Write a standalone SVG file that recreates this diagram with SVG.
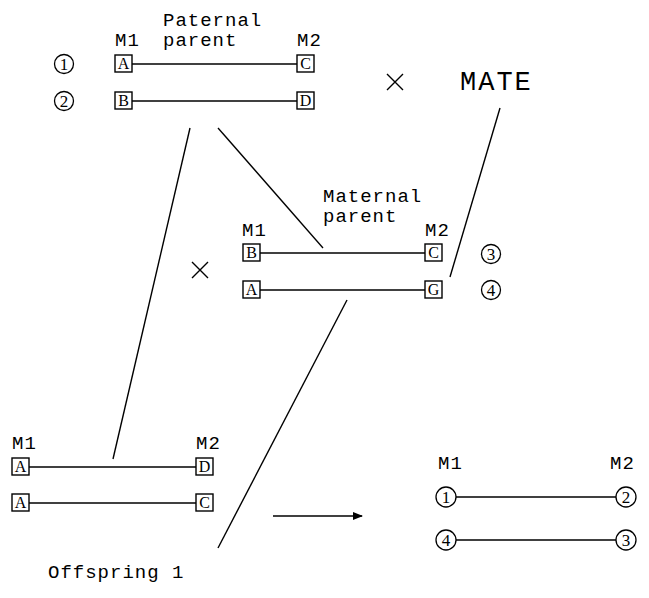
<svg xmlns="http://www.w3.org/2000/svg" width="649" height="598" viewBox="0 0 649 598">
<style>
.lbl{font-family:"Liberation Mono","Courier New",monospace;font-size:19px;letter-spacing:1px;fill:#000}
.big{font-family:"Liberation Mono","Courier New",monospace;font-size:27px;letter-spacing:2px;fill:#000}
.bx{fill:#fff;stroke:#000;stroke-width:1.4}
.bt{font-family:"Liberation Serif","Times New Roman",serif;font-size:16px;fill:#000;text-anchor:middle}
.ci{fill:#fff;stroke:#000;stroke-width:1.3}
.ct{font-family:"Liberation Serif","Times New Roman",serif;font-size:17px;fill:#000;text-anchor:middle}
.ln{stroke:#000;stroke-width:1.4;fill:none}
</style>
<defs>
<marker id="ah" markerWidth="10" markerHeight="8" refX="9" refY="4" orient="auto" markerUnits="userSpaceOnUse">
<path d="M0,0 L10,4 L0,8 Z" fill="#000"/>
</marker>
</defs>
<g id="connectors">
<line class="ln" x1="132" y1="64" x2="297" y2="64"/>
<line class="ln" x1="132" y1="101" x2="297" y2="101"/>
<line class="ln" x1="260" y1="253" x2="425" y2="253"/>
<line class="ln" x1="260" y1="290" x2="425" y2="290"/>
<line class="ln" x1="29" y1="467" x2="196" y2="467"/>
<line class="ln" x1="29" y1="503" x2="196" y2="503"/>
<line class="ln" x1="456" y1="497" x2="616" y2="497"/>
<line class="ln" x1="456" y1="540" x2="616" y2="540"/>
<line class="ln" x1="190" y1="128" x2="113" y2="459"/>
<line class="ln" x1="218" y1="128" x2="323" y2="248"/>
<line class="ln" x1="500" y1="108" x2="450" y2="277"/>
<line class="ln" x1="347" y1="300" x2="218" y2="548"/>
<line class="ln" x1="273" y1="516" x2="362" y2="516" marker-end="url(#ah)"/>
</g>
<g id="paternal">
<text class="lbl" x="163" y="26">Paternal</text>
<text class="lbl" x="163" y="46">parent</text>
<text class="lbl" x="115" y="46">M1</text>
<text class="lbl" x="297" y="46">M2</text>
<g id="p-c1"><circle class="ci" cx="64" cy="64" r="9.5"/><text class="ct" x="64" y="70">1</text></g>
<g id="p-c2"><circle class="ci" cx="64" cy="101" r="9.5"/><text class="ct" x="64" y="107">2</text></g>
<g id="p-A"><rect class="bx" x="115" y="55" width="17" height="17"/><text class="bt" x="123.5" y="69">A</text></g>
<g id="p-C"><rect class="bx" x="297" y="55" width="17" height="17"/><text class="bt" x="305.5" y="69">C</text></g>
<g id="p-B"><rect class="bx" x="115" y="92" width="17" height="17"/><text class="bt" x="123.5" y="106">B</text></g>
<g id="p-D"><rect class="bx" x="297" y="92" width="17" height="17"/><text class="bt" x="305.5" y="106">D</text></g>
</g>
<g id="cross1"><path class="ln" d="M387,74 L403,90 M403,74 L387,90"/></g>
<g id="mate"><text class="big" x="460" y="90">MATE</text></g>
<g id="maternal">
<text class="lbl" x="323" y="202">Maternal</text>
<text class="lbl" x="323" y="222">parent</text>
<text class="lbl" x="242" y="236">M1</text>
<text class="lbl" x="425" y="236">M2</text>
<g id="m-B"><rect class="bx" x="243" y="244" width="17" height="17"/><text class="bt" x="251.5" y="258">B</text></g>
<g id="m-C"><rect class="bx" x="425" y="244" width="17" height="17"/><text class="bt" x="433.5" y="258">C</text></g>
<g id="m-A"><rect class="bx" x="243" y="281" width="17" height="17"/><text class="bt" x="251.5" y="295">A</text></g>
<g id="m-G"><rect class="bx" x="425" y="281" width="17" height="17"/><text class="bt" x="433.5" y="295">G</text></g>
<g id="m-c3"><circle class="ci" cx="491" cy="254" r="9.5"/><text class="ct" x="491" y="260">3</text></g>
<g id="m-c4"><circle class="ci" cx="491" cy="290" r="9.5"/><text class="ct" x="491" y="296">4</text></g>
</g>
<g id="cross2"><path class="ln" d="M192,262 L208,278 M208,262 L192,278"/></g>
<g id="offspring">
<text class="lbl" x="12" y="449">M1</text>
<text class="lbl" x="196" y="449">M2</text>
<g id="o-A1"><rect class="bx" x="12" y="458" width="17" height="17"/><text class="bt" x="20.5" y="472">A</text></g>
<g id="o-D"><rect class="bx" x="196" y="458" width="17" height="17"/><text class="bt" x="204.5" y="472">D</text></g>
<g id="o-A2"><rect class="bx" x="12" y="494" width="17" height="17"/><text class="bt" x="20.5" y="508">A</text></g>
<g id="o-C"><rect class="bx" x="196" y="494" width="17" height="17"/><text class="bt" x="204.5" y="508">C</text></g>
<text class="lbl" x="48" y="578">Offspring 1</text>
</g>
<g id="result">
<text class="lbl" x="438" y="469">M1</text>
<text class="lbl" x="610" y="469">M2</text>
<g id="r-c1"><circle class="ci" cx="446" cy="497" r="10"/><text class="ct" x="446" y="503">1</text></g>
<g id="r-c2"><circle class="ci" cx="626" cy="497" r="10"/><text class="ct" x="626" y="503">2</text></g>
<g id="r-c4"><circle class="ci" cx="446" cy="540" r="10"/><text class="ct" x="446" y="546">4</text></g>
<g id="r-c3"><circle class="ci" cx="626" cy="540" r="10"/><text class="ct" x="626" y="546">3</text></g>
</g>
</svg>
